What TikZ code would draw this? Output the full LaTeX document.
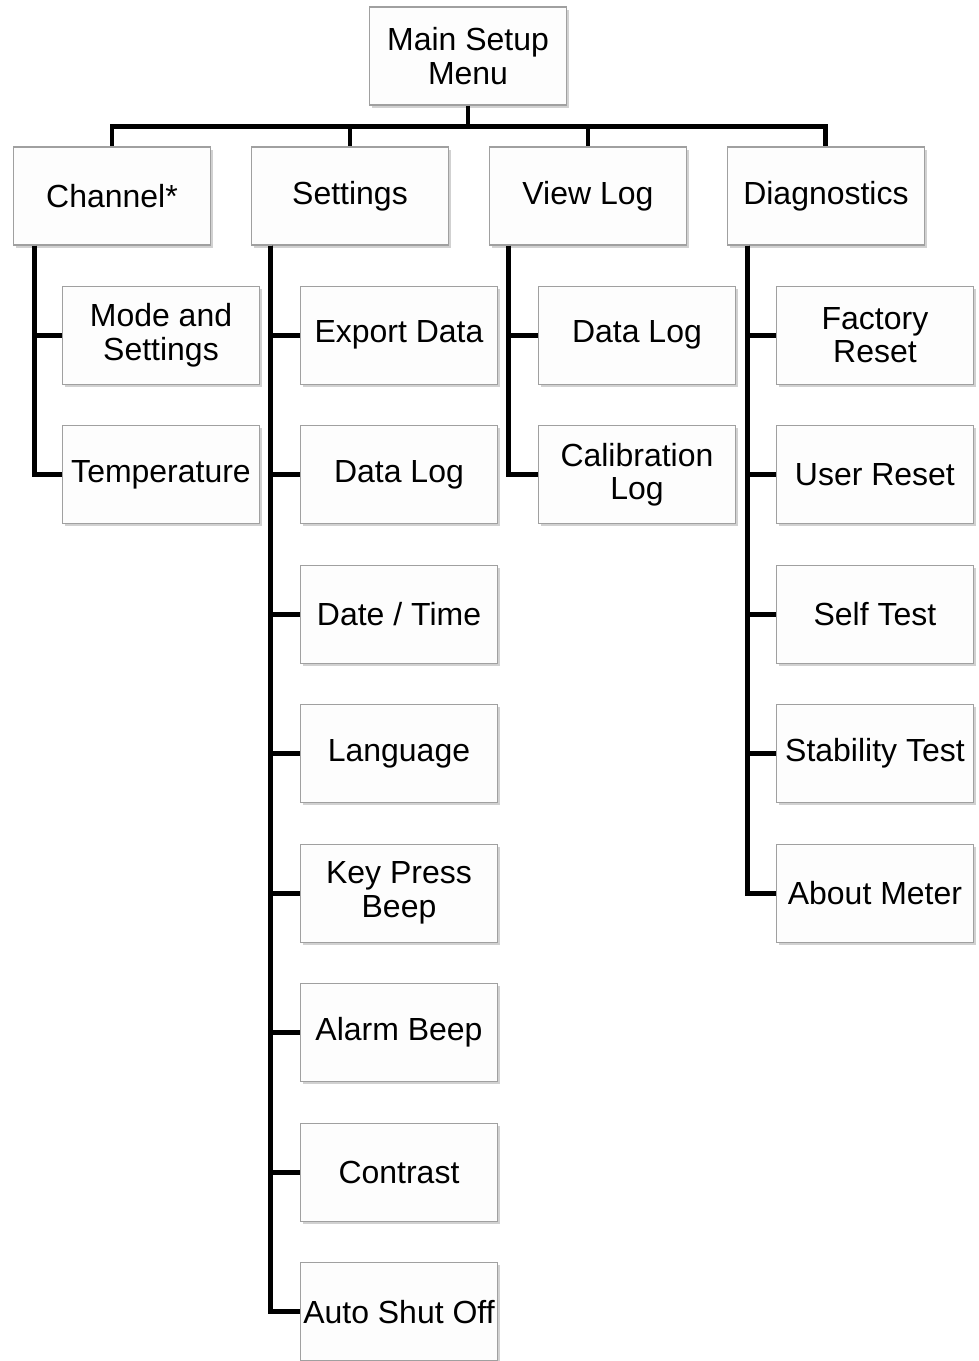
\documentclass[tikz,border=0pt]{standalone}
\usepackage{fontspec}
\setmainfont{Liberation Sans}
\usepackage{tikz}
\usetikzlibrary{positioning,shadows}
\definecolor{boxgray}{RGB}{160,160,160}
\definecolor{boxfill}{RGB}{253,253,253}

\begin{document}
\begin{tikzpicture}[
    node distance=0.805cm and 0.795cm,
    box/.style={rectangle, draw=boxgray, fill=boxfill, line width=0.7pt,
                minimum width=3.94cm, minimum height=1.96cm, inner xsep=0pt,
                align=center, font=\fontsize{18.2}{19.2}\selectfont,
                drop shadow={shadow xshift=1.5pt, shadow yshift=-1.5pt, opacity=0.3, fill=black!60}},
    conn/.style={line width=2.8pt, black}
]
\useasboundingbox (0,0) rectangle (19.58,-27.22);
\node[box] (main) at (9.36,-1.12) {Main Setup\\Menu};
\node[box] (chan) at (2.24,-3.92) {Channel*};
\node[box, right=of chan] (sett) {Settings};
\node[box, right=of sett] (vlog) {View Log};
\node[box, right=of vlog] (diag) {Diagnostics};
% channel
\node[box, below=0.8cm of chan, xshift=0.98cm] (mode) {Mode and\\Settings};
\node[box, below=of mode] (temp) {Temperature};
% settings
\node[box, below=0.8cm of sett, xshift=0.98cm] (export) {Export Data};
\node[box, below=of export] (sdlog) {Data Log};
\node[box, below=of sdlog] (dtime) {Date / Time};
\node[box, below=of dtime] (lang) {Language};
\node[box, below=of lang] (keyb) {Key Press\\Beep};
\node[box, below=of keyb] (alarm) {Alarm Beep};
\node[box, below=of alarm] (contr) {Contrast};
\node[box, below=of contr] (autooff) {Auto Shut Off};
% view log
\node[box, below=0.8cm of vlog, xshift=0.98cm] (vdlog) {Data Log};
\node[box, below=of vdlog] (clog) {Calibration\\Log};
% diagnostics
\node[box, below=0.8cm of diag, xshift=0.98cm] (factory) {Factory\\Reset};
\node[box, below=of factory] (ureset) {User Reset};
\node[box, below=of ureset] (selft) {Self Test};
\node[box, below=of selft] (stabt) {Stability Test};
\node[box, below=of stabt] (about) {About Meter};

% top bus
\coordinate (bus) at ([yshift=-0.42cm]main.south);
\draw[conn] (main.south) -- (bus);
\draw[conn] (bus) -| (chan.north);
\draw[conn] (bus) -| (sett.north);
\draw[conn] (bus) -| (vlog.north);
\draw[conn] (bus) -| (diag.north);

% branches
\draw[conn] ([xshift=0.44cm]chan.south west) |- (mode.west);
\draw[conn] ([xshift=0.44cm]chan.south west) |- (temp.west);
\draw[conn] ([xshift=0.4cm]sett.south west) |- (export.west);
\draw[conn] ([xshift=0.4cm]sett.south west) |- (sdlog.west);
\draw[conn] ([xshift=0.4cm]sett.south west) |- (dtime.west);
\draw[conn] ([xshift=0.4cm]sett.south west) |- (lang.west);
\draw[conn] ([xshift=0.4cm]sett.south west) |- (keyb.west);
\draw[conn] ([xshift=0.4cm]sett.south west) |- (alarm.west);
\draw[conn] ([xshift=0.4cm]sett.south west) |- (contr.west);
\draw[conn] ([xshift=0.4cm]sett.south west) |- (autooff.west);
\draw[conn] ([xshift=0.4cm]vlog.south west) |- (vdlog.west);
\draw[conn] ([xshift=0.4cm]vlog.south west) |- (clog.west);
\draw[conn] ([xshift=0.42cm]diag.south west) |- (factory.west);
\draw[conn] ([xshift=0.42cm]diag.south west) |- (ureset.west);
\draw[conn] ([xshift=0.42cm]diag.south west) |- (selft.west);
\draw[conn] ([xshift=0.42cm]diag.south west) |- (stabt.west);
\draw[conn] ([xshift=0.42cm]diag.south west) |- (about.west);
\end{tikzpicture}
\end{document}
